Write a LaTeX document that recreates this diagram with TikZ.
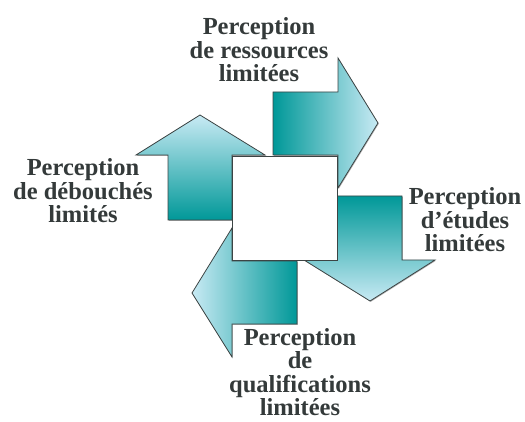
\documentclass[tikz,border=0pt]{standalone}
\usepackage{fontspec}
\setmainfont{Liberation Serif}
\usetikzlibrary{shadows}
\definecolor{tealfonce}{RGB}{0,152,152}
\definecolor{bleuclair}{RGB}{200,234,244}
\definecolor{gristexte}{RGB}{52,58,58}
\definecolor{contour}{RGB}{60,68,68}
\begin{document}
\begin{tikzpicture}[x=1pt,y=-1pt,
        fleche/.style={draw=contour, line width=0.8pt, drop shadow={shadow xshift=0.8pt, shadow yshift=-0.8pt, fill=gray!60, opacity=1}},
        etiquette/.style={align=center, text=gristexte, font=\fontsize{24.5}{23.5}\selectfont\bfseries}]
                \useasboundingbox (0,0) rectangle (525,422);
                \shadedraw [fleche, top color=bleuclair, bottom color=tealfonce] (168,220)--(168,155)--(136,155)--(200,115)--(265,155)--(232,155)--(232,220)--cycle;
                \shadedraw [fleche, left color=tealfonce, right color=bleuclair] (273,92)--(338,92)--(338,58)--(378,123)--(338,188)--(338,155)--(273,155)--cycle;
                \shadedraw [fleche, top color=tealfonce, bottom color=bleuclair] (337,196)--(402,196)--(402,260)--(435,260)--(370,301)--(304,260)--(337,260)--cycle;
                \shadedraw [fleche, left color=bleuclair, right color=tealfonce] (297,261)--(297,324)--(232,324)--(232,357)--(192,293)--(232,228)--(232,261)--cycle;
                \filldraw [fleche, fill=white] (232,156) rectangle (337,260);
                \node [etiquette] (ressources) at (259,50) {Perception\\de ressources\\limitées};
                \node [etiquette] (debouches) at (83,191) {Perception\\de débouchés\\limités};
                \node [etiquette] (etudes) at (465,220) {Perception\\d’études\\limitées};
                \node [etiquette] (qualifications) at (300,372) {Perception\\de\\qualifications\\limitées};
\end{tikzpicture}
\end{document}
